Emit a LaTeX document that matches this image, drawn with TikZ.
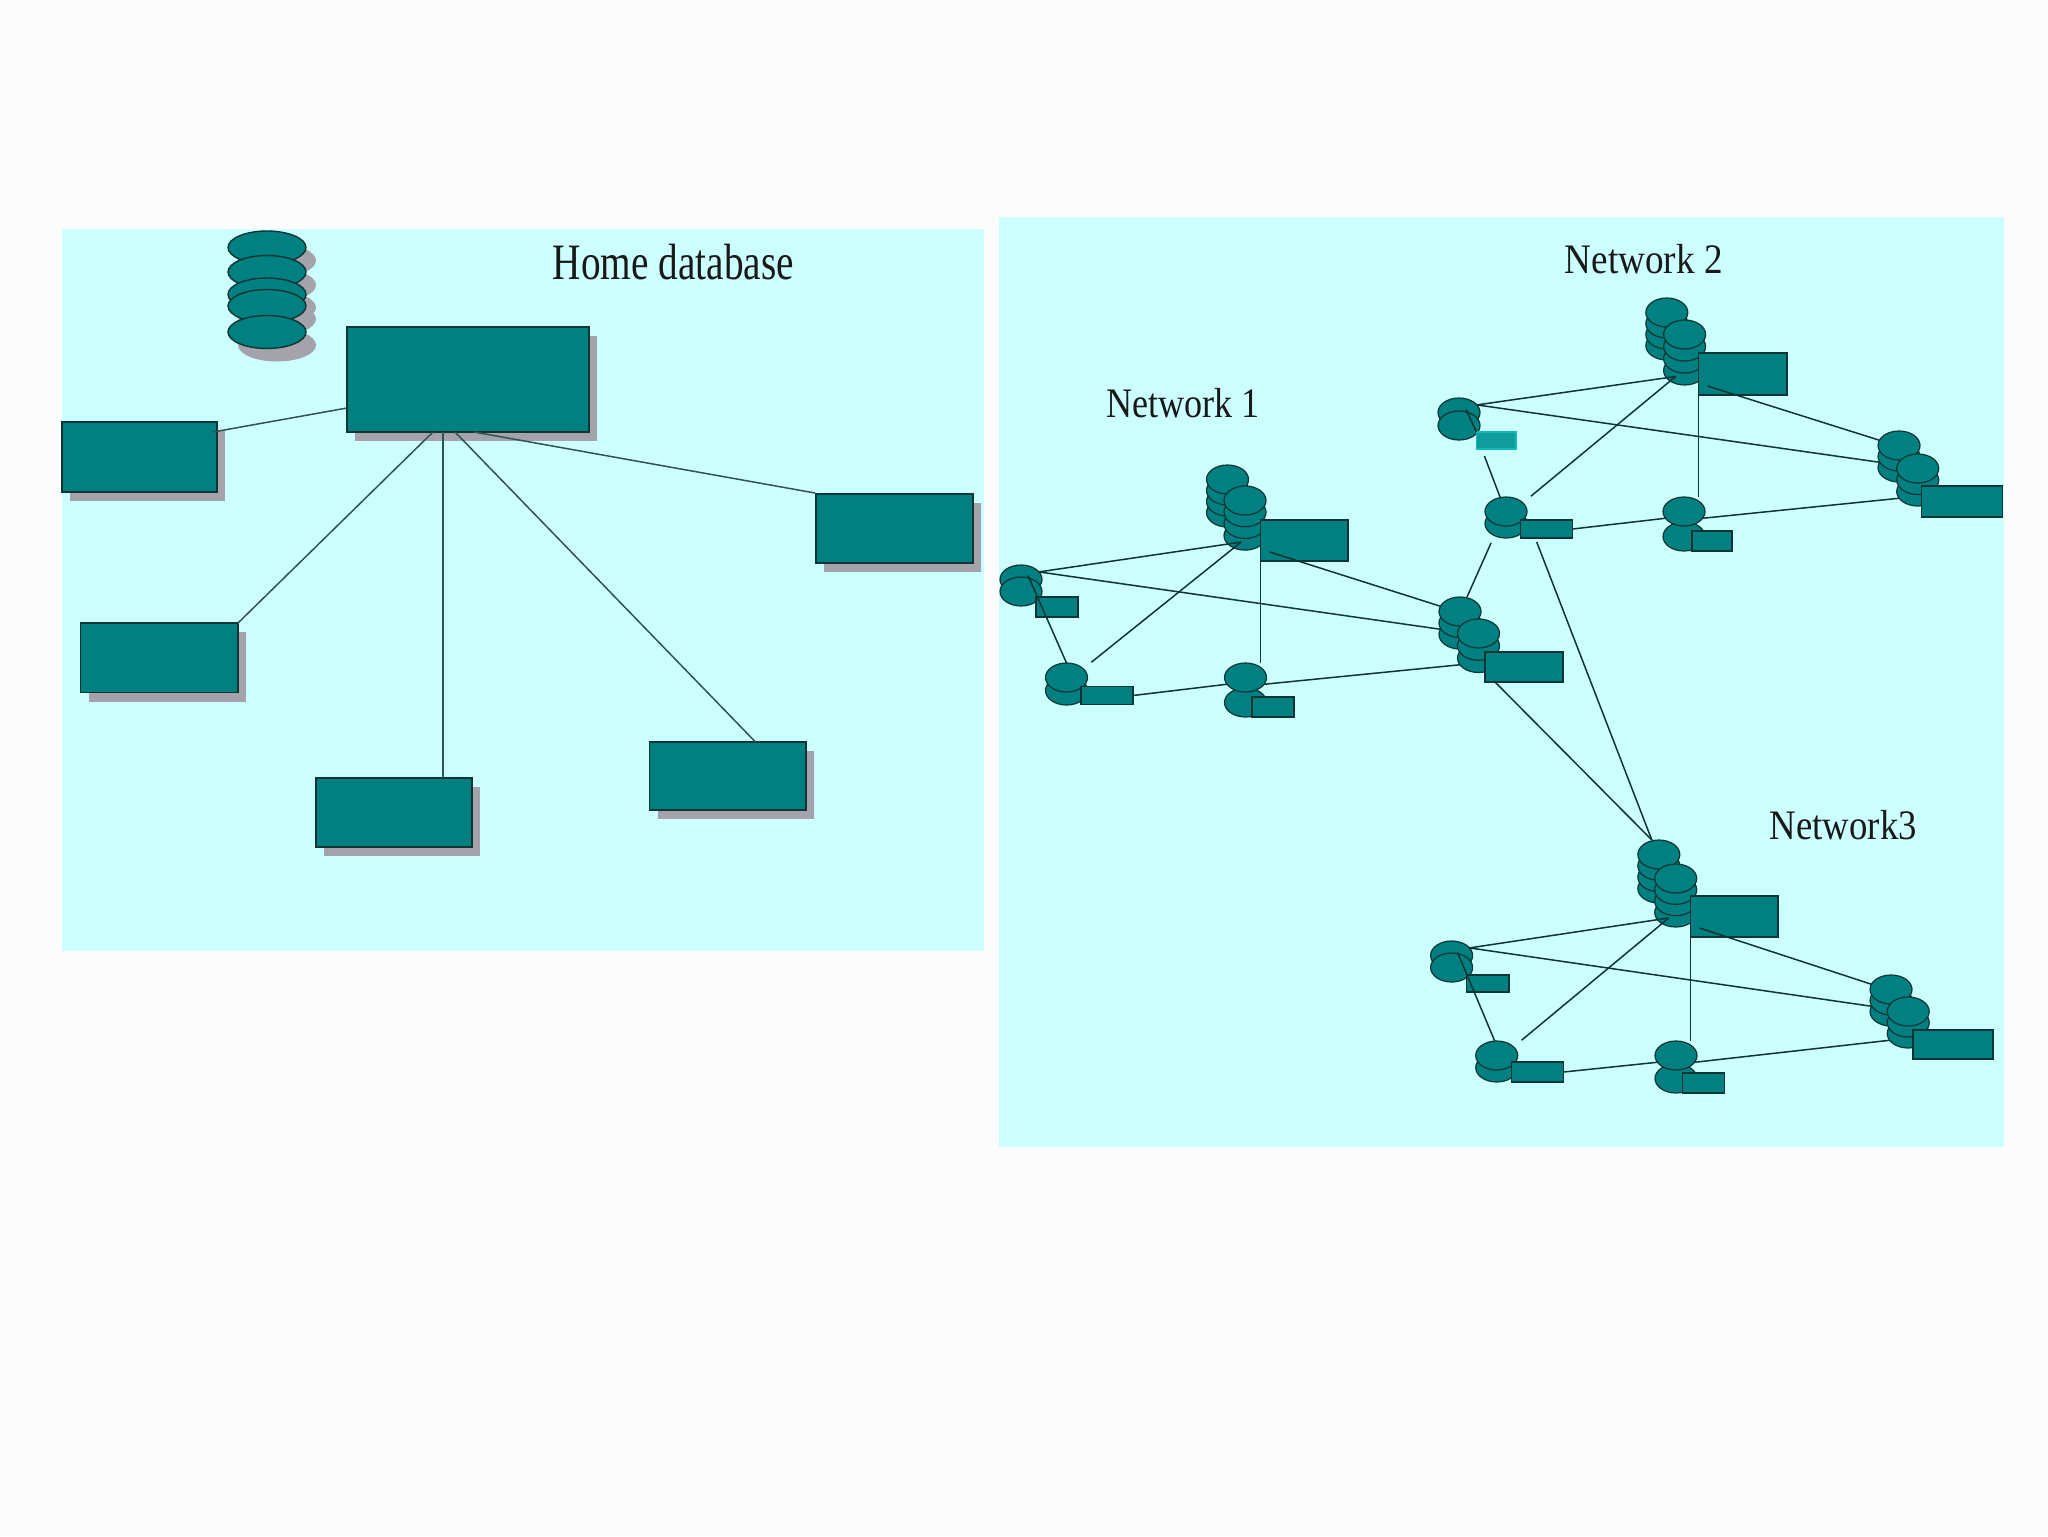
\documentclass[tikz,border=0pt]{standalone}
\usepackage{fontspec}
\setmainfont{Liberation Serif}
\usetikzlibrary{shapes.geometric,shadows}
\definecolor{paneblue}{HTML}{CCFFFF}
\definecolor{hostteal}{HTML}{008080}
\definecolor{edgedark}{HTML}{0E3434}
\definecolor{shadegray}{HTML}{A4A2AA}
\definecolor{paleteal}{HTML}{109C9C}
\tikzset{
    hostbox/.style={rectangle,draw=edgedark,fill=hostteal,line width=.7pt,inner sep=0pt,outer sep=0pt},
    shaded/.style={general shadow={fill=shadegray,shadow xshift=4pt,shadow yshift=-4.5pt}},
    bigdisk/.style={ellipse,draw=edgedark,fill=hostteal,line width=.7pt,inner sep=0pt,outer sep=0pt,
        minimum width=39pt,minimum height=16.5pt,
        general shadow={fill=shadegray,shadow xshift=5pt,shadow yshift=-6.5pt}},
    netdisk/.style={ellipse,draw=edgedark,fill=hostteal,line width=.6pt,inner sep=0pt,outer sep=0pt,
        minimum width=21pt,minimum height=14.5pt},
    homeline/.style={draw=edgedark!85,line width=.75pt},
    netline/.style={draw=edgedark,line width=.75pt},
    labeltext/.style={anchor=base west,inner sep=0pt,text=black!90,transform shape}
}
\newcommand{\mkbox}[6][]{\node[hostbox,#1,minimum width={(#5-#3)*.5pt},minimum height={(#6-#4)*.5pt}]
    (#2) at ({(#3+#5)/2},{(#4+#6)/2}) {};}
\newcommand{\dbstack}[5]{\foreach \k in {#5,...,0} \node[netdisk] (#1\k) at (#2,{#3+\k*#4}) {};}
\newcommand{\netlinks}[1]{
    \draw[netline] (#1c0.23) -- (#1hub);
    \draw[netline] (#1c0.23) -- (#1f2.165);
    \draw[netline] ([shift={(4.5pt,4.5pt)}]#1r.south west) -- (#1f0.165);
    \draw[netline] (#1hub) -- ([shift={(5pt,2.5pt)}]#1d0.north east);
    \draw[netline] (#1r.south west) -- (#1r.south west |- #1e0.north);
    \draw[netline] (#1dr.east) -- (#1e0.200);
    \draw[netline] (#1e0.-20) -- (#1g2.200);
}

\begin{document}
\begin{tikzpicture}[x=.5pt,y=-.5pt]
    \useasboundingbox (0,0) rectangle (2048,1536);
    \fill[white!99!black] (0,0) rectangle (2048,1536);
    \fill[paneblue] (61.5,228.5) rectangle (983.5,951);
    \fill[paneblue] (999,217) rectangle (2004,1147);

    \node[labeltext,xscale=.77,font=\fontsize{25.5}{30}\selectfont] (homelabel) at (552.5,279) {Home database};
    \node[labeltext,xscale=.86,font=\fontsize{21}{25}\selectfont] (netlabela) at (1106,417) {Network 1};
    \node[labeltext,xscale=.885,font=\fontsize{21}{25}\selectfont] (netlabelb) at (1564.5,273) {Network 2};
    \node[labeltext,xscale=.875,font=\fontsize{21}{25}\selectfont] (netlabelc) at (1769.5,839) {Network3};

    \foreach \n/\y in {a/247.5,b/272,c/294.5,d/306,e/332}
        \node[bigdisk] (home\n) at (267,\y) {};
    \mkbox[shaded]{mainhost}{347}{327}{589}{432}
    \mkbox[shaded]{hostleft}{62}{422}{217}{492}
    \mkbox[shaded]{hostright}{816}{494}{973}{563}
    \mkbox[shaded]{hostlow}{80.5}{623}{238}{692.5}
    \mkbox[shaded]{hostbottom}{316}{778}{472}{847}
    \mkbox[shaded]{hostmid}{649.5}{742}{806}{810}
    \draw[homeline] (mainhost.west |- 0,408) -- ([shift={(-2pt,-5pt)}]hostleft.north east);
    \draw[homeline] ([xshift=43pt]mainhost.south west) -- (hostlow.north east);
    \draw[homeline] ([xshift=48pt]mainhost.south west) -- ([xshift=63.5pt]hostbottom.north west);
    \draw[homeline] ([xshift=54pt]mainhost.south west) -- ([xshift=53pt]hostmid.north west);
    \draw[homeline] ([xshift=63.5pt]mainhost.south west) -- ([shift={(-.5pt,.5pt)}]hostright.north west);

    \dbstack{n1a}{1227.5}{479.5}{11}{3}
    \dbstack{n1b}{1245}{500.5}{11.7}{3}
    \mkbox{n1r}{1260.7}{520}{1348}{561}
    \node[netdisk] (n1c0) at (1021,579.5) {};
    \node[netdisk] (n1c1) at (1021,591.5) {};
    \mkbox{n1cr}{1036}{597}{1078}{617}
    \node[netdisk] (n1d1) at (1066.5,690.5) {};
    \node[netdisk] (n1d0) at (1066.5,677.5) {};
    \mkbox{n1dr}{1081}{686.5}{1133}{704.5}
    \node[netdisk] (n1e1) at (1245.5,702.5) {};
    \node[netdisk] (n1e0) at (1245.5,677.5) {};
    \mkbox{n1er}{1252}{697}{1294}{717}
    \dbstack{n1f}{1460}{611.5}{11.5}{2}
    \dbstack{n1g}{1478.5}{633.5}{12.25}{2}
    \mkbox{n1gr}{1485}{652}{1563}{682}
    \coordinate (n1hub) at ([shift={(-2pt,-3.25pt)}]n1b3.center);
    \netlinks{n1}
    \draw[netline] ([shift={(3.5pt,2pt)}]n1c0.center) -- (n1d0.north);

    \dbstack{n2a}{1666.8}{312.5}{11}{3}
    \dbstack{n2b}{1684.6}{334.5}{12}{3}
    \mkbox{n2r}{1698.5}{353}{1786.8}{395}
    \node[netdisk] (n2c0) at (1459,412.5) {};
    \node[netdisk] (n2c1) at (1459,425.5) {};
    \mkbox[draw=paleteal!70!cyan,fill=paleteal]{n2cr}{1476.4}{432}{1516}{449}
    \node[netdisk] (n2d1) at (1506,523.5) {};
    \node[netdisk] (n2d0) at (1506,511.5) {};
    \mkbox{n2dr}{1520.7}{520}{1572.6}{538}
    \node[netdisk] (n2e1) at (1684,536.5) {};
    \node[netdisk] (n2e0) at (1684,511.5) {};
    \mkbox{n2er}{1692}{531}{1732}{551}
    \dbstack{n2f}{1899}{445.5}{11}{2}
    \dbstack{n2g}{1917.7}{468.5}{11.5}{2}
    \mkbox{n2gr}{1921.6}{486}{2002.5}{517}
    \coordinate (n2hub) at ([shift={(-4.5pt,-3pt)}]n2b3.center);
    \netlinks{n2}
    \draw[netline] ([shift={(3.5pt,1.5pt)}]n2c0.center) -- (n2cr.north west);
    \draw[netline] ([shift={(4pt,-3.5pt)}]n2cr.south west) -- ([xshift=-3pt]n2d0.north);

    \dbstack{n3a}{1658.8}{854.5}{11.33}{3}
    \dbstack{n3b}{1675.7}{878.5}{11.33}{3}
    \mkbox{n3r}{1690.6}{896}{1777.8}{937}
    \node[netdisk] (n3c0) at (1451.6,955.5) {};
    \node[netdisk] (n3c1) at (1451.6,967.5) {};
    \mkbox{n3cr}{1466.4}{975}{1509}{992}
    \node[netdisk] (n3d1) at (1496.7,1067.5) {};
    \node[netdisk] (n3d0) at (1496.7,1055.5) {};
    \mkbox{n3dr}{1511.6}{1062}{1563.6}{1082}
    \node[netdisk] (n3e1) at (1676,1078.5) {};
    \node[netdisk] (n3e0) at (1676,1055.5) {};
    \mkbox{n3er}{1682.6}{1073}{1724.3}{1093}
    \dbstack{n3f}{1891}{989.5}{11}{2}
    \dbstack{n3g}{1908.2}{1011.5}{11}{2}
    \mkbox{n3gr}{1913}{1030}{1993}{1059}
    \coordinate (n3hub) at ([shift={(-3.5pt,-2.75pt)}]n3b3.center);
    \netlinks{n3}
    \draw[netline] ([shift={(3pt,1.5pt)}]n3c0.center) -- ([xshift=-1pt]n3d0.north);

    \draw[netline] ([shift={(-7.5pt,-2.5pt)}]n2d1.south) -- ([xshift=3.5pt]n1f0.north);
    \draw[netline] ([shift={(8pt,-2pt)}]n2dr.south west) -- ([xshift=-3.5pt]n3a0.north);
    \draw[netline] ([xshift=5pt]n1gr.south west) -- ([xshift=-3.5pt]n3a0.north);
\end{tikzpicture}
\end{document}
